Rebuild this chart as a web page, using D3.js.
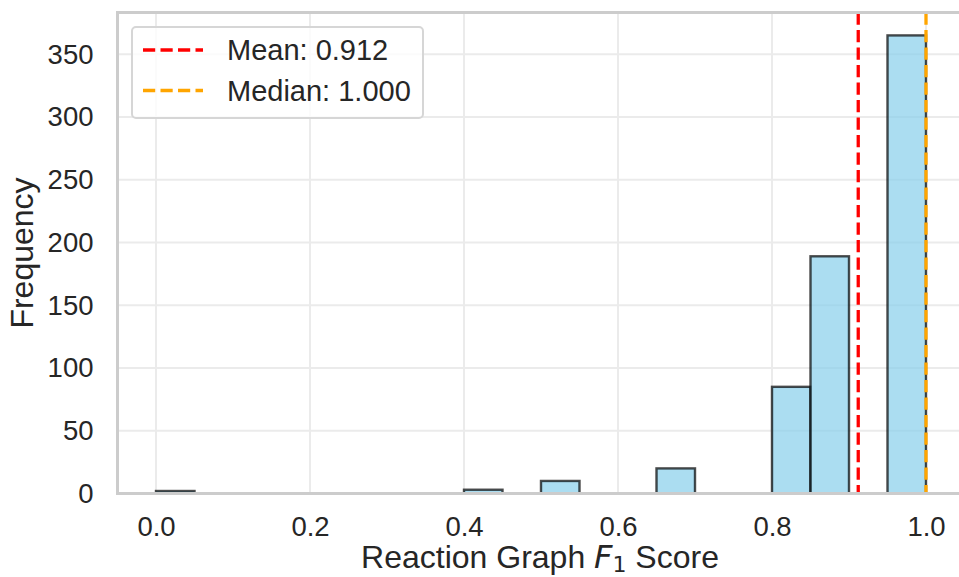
<!DOCTYPE html>
<html>
<head>
<meta charset="utf-8">
<script src="https://cdn.jsdelivr.net/npm/d3@7"></script>
<style>
  body { margin: 0; background: #fff; }
  svg { display: block; font-family: "Liberation Sans", Arial, sans-serif; }
  .axis text { fill: #262626; font-size: 27.5px; }
  .axis .domain { display: none; }
</style>
</head>
<body>
<div class="chart"></div>
<script>

// histogram bins (width 0.05) and their counts
const binStarts = [0.00, 0.05, 0.10, 0.15, 0.20, 0.25, 0.30, 0.35, 0.40, 0.45,
                   0.50, 0.55, 0.60, 0.65, 0.70, 0.75, 0.80, 0.85, 0.90, 0.95]
const binCounts = [2, 0, 0, 0, 0, 0, 0, 0, 3, 0,
                   10, 0, 0, 20, 0, 0, 85, 189, 0, 365]
const binWidth = 0.05

const meanValue = 0.912
const medianValue = 1.000

const xTicks = [0.0, 0.2, 0.4, 0.6, 0.8, 1.0]
const yTicks = [0, 50, 100, 150, 200, 250, 300, 350]

const refLines = [
    { label: "Mean: 0.912", value: meanValue, color: "red" },
    { label: "Median: 1.000", value: medianValue, color: "orange" }
]

// layout
const W = 959, H = 577
const plot = { left: 117.5, right: 964.5, top: 12.5, bottom: 493.5 }

let svg = d3.select(".chart").append("svg")
    .attr("width", W)
    .attr("height", H)

let xScale = d3.scaleLinear()
    .domain([-0.05, 1.05])
    .range([plot.left, plot.right])

let yScale = d3.scaleLinear()
    .domain([0, d3.max(binCounts) * 1.05])
    .range([plot.bottom, plot.top])

// grid
svg.append("g").selectAll("line.vg")
    .data(xTicks)
    .join("line")
    .attr("x1", d => xScale(d)).attr("x2", d => xScale(d))
    .attr("y1", plot.top).attr("y2", plot.bottom)
    .attr("stroke", "#ebebeb").attr("stroke-width", 2)

svg.append("g").selectAll("line.hg")
    .data(yTicks)
    .join("line")
    .attr("y1", d => yScale(d)).attr("y2", d => yScale(d))
    .attr("x1", plot.left).attr("x2", plot.right)
    .attr("stroke", "#ebebeb").attr("stroke-width", 2)

// bars
let bins = binStarts.map((s, i) => ({ x0: s, x1: s + binWidth, count: binCounts[i] }))

svg.append("g").selectAll("rect")
    .data(bins.filter(d => d.count > 0))
    .join("rect")
    .attr("x", d => xScale(d.x0))
    .attr("width", d => xScale(d.x1) - xScale(d.x0))
    .attr("y", d => yScale(d.count))
    .attr("height", d => yScale(0) - yScale(d.count))
    .attr("fill", "#87ceeb").attr("fill-opacity", 0.7)
    .attr("stroke", "#000").attr("stroke-opacity", 0.7)
    .attr("stroke-width", 2.4)

// mean / median lines
svg.append("g").selectAll("line")
    .data(refLines)
    .join("line")
    .attr("x1", d => xScale(d.value)).attr("x2", d => xScale(d.value))
    .attr("y1", plot.top).attr("y2", plot.bottom)
    .attr("stroke", d => d.color)
    .attr("stroke-width", 3.3)
    .attr("stroke-dasharray", "12.2,5.3")

// spines (left, top, bottom; right is beyond the crop)
const spine = "#cccccc"
svg.append("line").attr("x1", plot.left).attr("x2", plot.left)
    .attr("y1", plot.top).attr("y2", plot.bottom)
    .attr("stroke", spine).attr("stroke-width", 3).attr("stroke-linecap", "square")
svg.append("line").attr("x1", plot.left).attr("x2", plot.right)
    .attr("y1", plot.top).attr("y2", plot.top)
    .attr("stroke", spine).attr("stroke-width", 3).attr("stroke-linecap", "square")
svg.append("line").attr("x1", plot.left).attr("x2", plot.right)
    .attr("y1", plot.bottom).attr("y2", plot.bottom)
    .attr("stroke", spine).attr("stroke-width", 3).attr("stroke-linecap", "square")

// axes
let xAxis = d3.axisBottom(xScale)
    .tickValues(xTicks)
    .tickFormat(d3.format(".1f"))
    .tickSize(0)
    .tickPadding(23)

let yAxis = d3.axisLeft(yScale)
    .tickValues(yTicks)
    .tickSize(0)
    .tickPadding(24)

svg.append("g")
    .attr("class", "axis x-axis")
    .attr("transform", `translate(0, ${plot.bottom})`)
    .call(xAxis)

svg.append("g")
    .attr("class", "axis y-axis")
    .attr("transform", `translate(${plot.left}, 0)`)
    .call(yAxis)

// axis titles
let xTitle = svg.append("text")
    .attr("x", 540).attr("y", 568)
    .attr("text-anchor", "middle")
    .attr("fill", "#262626")
    .style("font-size", "32px")
xTitle.append("tspan").text("Reaction Graph ")
xTitle.append("tspan").text("F")
    .style("font-family", "'DejaVu Sans', sans-serif")
    .style("font-style", "italic")
xTitle.append("tspan").text("1")
    .style("font-family", "'DejaVu Sans', sans-serif")
    .style("font-size", "22px")
    .attr("dy", 4)
xTitle.append("tspan").text(" Score").attr("dy", -4)

svg.append("text")
    .attr("transform", "translate(33, 253) rotate(-90)")
    .attr("text-anchor", "middle")
    .attr("fill", "#262626")
    .style("font-size", "32px")
    .text("Frequency")

// legend
let legend = svg.append("g")
legend.append("rect")
    .attr("x", 132).attr("y", 27)
    .attr("width", 291).attr("height", 91)
    .attr("rx", 4)
    .attr("fill", "#fff").attr("fill-opacity", 0.8)
    .attr("stroke", "#d6d6d6").attr("stroke-width", 2)

let items = legend.selectAll("g.item")
    .data(refLines)
    .join("g")
    .attr("class", "item")
    .attr("transform", (d, i) => `translate(0, ${50 + i * 40.5})`)

items.append("line")
    .attr("x1", 143).attr("x2", 203)
    .attr("stroke", d => d.color)
    .attr("stroke-width", 3.3)
    .attr("stroke-dasharray", "12.2,5.3")

items.append("text")
    .attr("x", 227)
    .attr("dy", "0.35em")
    .attr("fill", "#262626")
    .style("font-size", "29px")
    .text(d => d.label)

</script>
</body>
</html>
